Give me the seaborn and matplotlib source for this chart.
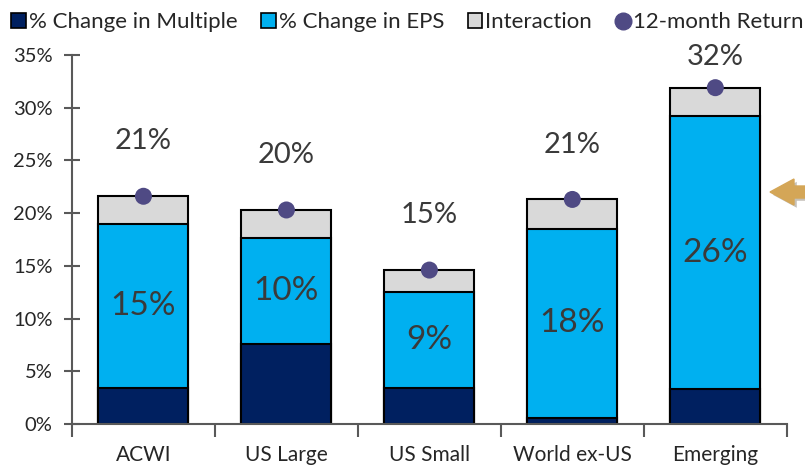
#! /usr/bin/env python3

import numpy as np
import pandas as pd
import seaborn as sns, matplotlib.pyplot as plt
from matplotlib.patches import Patch, FancyArrow
from matplotlib.lines import Line2D
import matplotlib.patheffects as pe

sns.set_theme(style="white")
plt.rcParams['font.family'] = ['Lato', 'DejaVu Sans']

regions = ["ACWI", "US Large", "US Small", "World ex-US", "Emerging"]
chg_multiple = [3.4, 7.6, 3.4, 0.6, 3.3]
chg_eps = [15.6, 10.0, 9.1, 17.9, 25.9]
interaction = [2.6, 2.7, 2.1, 2.8, 2.7]
ret_12m = [21.6, 20.3, 14.6, 21.3, 31.9]
eps_labels = ["15%", "10%", "9%", "18%", "26%"]
ret_labels = ["21%", "20%", "15%", "21%", "32%"]

navy, blue, gray, dot = "#002060", "#00B0F0", "#D9D9D9", "#4F4A84"
txt = "#3A3A3A"

df = pd.DataFrame({"region": regions, "multiple": chg_multiple,
                   "eps": chg_eps, "inter": interaction, "ret": ret_12m})
df["mult_eps"] = df["multiple"] + df["eps"]
df["total"] = df["mult_eps"] + df["inter"]

fig = plt.figure(figsize=(8.05, 4.68), dpi=100)
ax = fig.add_axes([0.0894, 0.094, 0.888, 0.7885])

# stacked bars: draw cumulative heights, tallest first
for col, c in [("total", gray), ("mult_eps", blue), ("multiple", navy)]:
    sns.barplot(data=df, x="region", y=col, color=c, saturation=1, width=0.63,
                edgecolor="black", linewidth=1.5, ax=ax, zorder=2)

sns.scatterplot(x=np.arange(len(regions)), y=df["ret"], color=dot, s=150,
                edgecolor="none", ax=ax, zorder=5, legend=False)

for i in range(len(regions)):
    mid = (df["multiple"][i] + df["mult_eps"][i]) / 2
    ax.text(i, mid, eps_labels[i], ha="center", va="center", fontsize=24, color=txt)
    ax.text(i, min(df["ret"][i] + 5.2, 34.8), ret_labels[i], ha="center",
            va="center", fontsize=21, color=txt, clip_on=False)

ax.set_xlim(-0.5, 4.5)
ax.set_ylim(0, 35)
ax.set_yticks(np.arange(0, 36, 5))
ax.set_yticklabels([f"{v}%" for v in range(0, 36, 5)])
ax.set_xticks(np.arange(-0.5, 5, 1), minor=True)
ax.set_xlabel("")
ax.set_ylabel("")
ax.tick_params(axis="y", direction="inout", length=12, width=1.5, color="#595959",
               labelsize=14.5, labelcolor="#262626", pad=8, left=True)
ax.tick_params(axis="x", which="major", length=0, labelsize=15, labelcolor="#262626", pad=15)
ax.tick_params(axis="x", which="minor", direction="out", length=9, width=1.5,
               color="#595959", bottom=True)
for s in ["top", "right"]:
    ax.spines[s].set_visible(False)
for s in ["left", "bottom"]:
    ax.spines[s].set_color("#595959")
    ax.spines[s].set_linewidth(1.5)

handles = [Patch(facecolor=navy, edgecolor="black", linewidth=1.2),
           Patch(facecolor=blue, edgecolor="black", linewidth=1.2),
           Patch(facecolor=gray, edgecolor="black", linewidth=1.2),
           Line2D([], [], marker="o", linestyle="none", color=dot, markersize=12)]
labels = ["% Change in Multiple", "% Change in EPS", "Interaction", "12-month Return"]
fig.legend(handles, labels, loc="upper left", bbox_to_anchor=(-0.008, 1.012), ncol=4,
           frameon=False, fontsize=16, handlelength=0.65, handleheight=0.65,
           handletextpad=0.15, columnspacing=1.05, borderpad=0.3, labelcolor="#262626")

arrow = FancyArrow(1.05, 1 - 192 / 468, -(1.05 - 770 / 805), 0, width=12 / 468,
                   head_width=26 / 468, head_length=24 / 805, length_includes_head=True,
                   transform=fig.transFigure, color="#D4A657", clip_on=False,
                   path_effects=[pe.SimplePatchShadow(offset=(2, -2), alpha=0.3), pe.Normal()])
fig.patches.append(arrow)

plt.savefig("out.png", dpi=100)
